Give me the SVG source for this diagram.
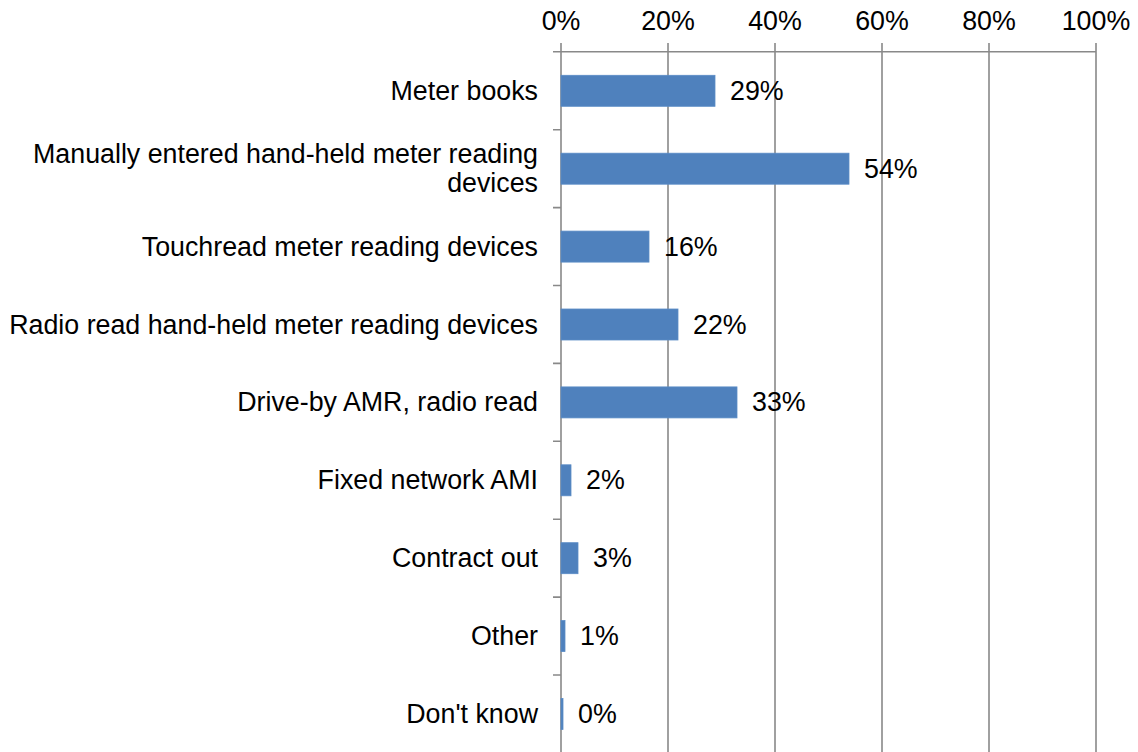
<svg xmlns="http://www.w3.org/2000/svg" width="1138" height="752" viewBox="0 0 1138 752">
<style>
text{font-family:"Liberation Sans",Arial,sans-serif;font-size:26.8px;fill:#000}
.cat{text-anchor:end}
.ax{text-anchor:middle}
.grid{stroke:#898989;stroke-width:1.6;fill:none}
.bar{fill:#4F81BD;stroke:#5B8CC6;stroke-width:0.8}
</style>
<rect width="1138" height="752" fill="#fff"/>
<g id="axis">
<path class="grid" d="M561 43V752M668 43V752M775 43V752M882 43V752M989 43V752M1096 43V752"/>
<path class="grid" d="M553 51.8H1096"/>
<path class="grid" d="M553 129.7H561M553 207.6H561M553 285.5H561M553 363.4H561M553 441.3H561M553 519.2H561M553 597.1H561M553 675H561"/>
<text class="ax" x="561" y="29.5">0%</text>
<text class="ax" x="668" y="29.5">20%</text>
<text class="ax" x="775" y="29.5">40%</text>
<text class="ax" x="882" y="29.5">60%</text>
<text class="ax" x="989" y="29.5">80%</text>
<text class="ax" x="1096" y="29.5">100%</text>
</g>
<g id="row1"><text class="cat" x="538" y="99.8">Meter books</text><rect class="bar" x="561" y="75.3" width="154" height="31"/><text x="730" y="99.8">29%</text></g>
<g id="row2"><text class="cat" x="538" y="162.5">Manually entered hand-held meter reading</text><text class="cat" x="538" y="191.8">devices</text><rect class="bar" x="561" y="153.2" width="288" height="31"/><text x="864" y="177.7">54%</text></g>
<g id="row3"><text class="cat" x="538" y="255.6">Touchread meter reading devices</text><rect class="bar" x="561" y="231.1" width="88" height="31"/><text x="664" y="255.6">16%</text></g>
<g id="row4"><text class="cat" x="538" y="333.5">Radio read hand-held meter reading devices</text><rect class="bar" x="561" y="309" width="117" height="31"/><text x="693" y="333.5">22%</text></g>
<g id="row5"><text class="cat" x="538" y="411.4">Drive-by AMR, radio read</text><rect class="bar" x="561" y="386.9" width="176" height="31"/><text x="752" y="411.4">33%</text></g>
<g id="row6"><text class="cat" x="538" y="489.3">Fixed network AMI</text><rect class="bar" x="561" y="464.8" width="10" height="31"/><text x="586" y="489.3">2%</text></g>
<g id="row7"><text class="cat" x="538" y="567.2">Contract out</text><rect class="bar" x="561" y="542.7" width="17" height="31"/><text x="593" y="567.2">3%</text></g>
<g id="row8"><text class="cat" x="538" y="645.1">Other</text><rect class="bar" x="561" y="620.6" width="4" height="31"/><text x="580" y="645.1">1%</text></g>
<g id="row9"><text class="cat" x="538" y="723">Don't know</text><rect class="bar" x="561" y="698.5" width="2" height="31"/><text x="578" y="723">0%</text></g>
</svg>
